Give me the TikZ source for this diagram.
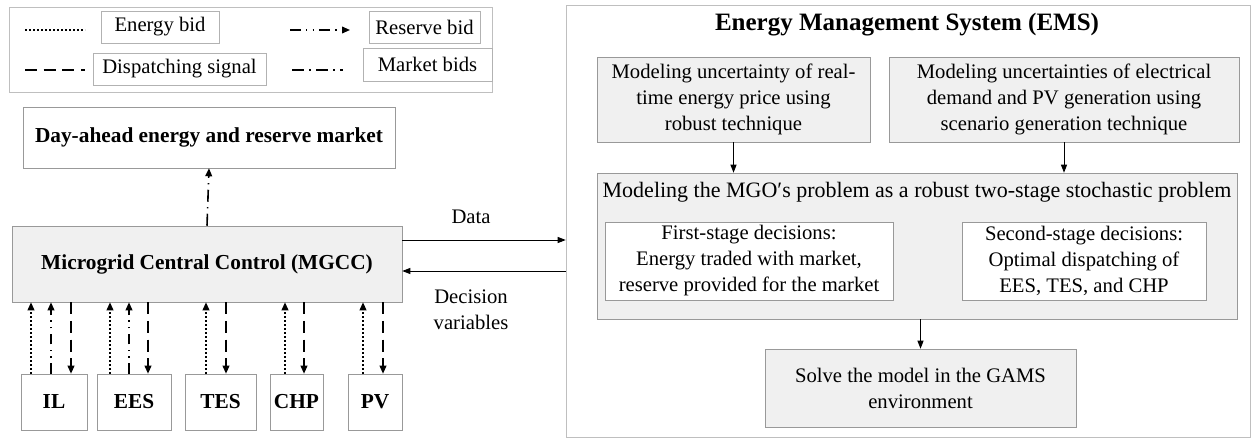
\documentclass[tikz,border=0pt]{standalone}
\usepackage{fontspec}
\setmainfont{Liberation Serif}
\usepackage{tikz}
\usetikzlibrary{arrows.meta,shadows}

\tikzset{
  softshadow/.style={drop shadow={shadow xshift=1pt,shadow yshift=-1pt,fill=black!40,opacity=0.45}},
  graybox/.style={draw=black!40, fill=black!6, align=center, inner sep=0pt, softshadow},
  whitebox/.style={draw=black!40, fill=white, align=center, inner sep=0pt, softshadow},
  keybox/.style={draw=black!30, fill=white, inner sep=0pt, minimum height=24pt},
  frame/.style={draw=black!25, fill=white, inner sep=0pt, softshadow},
  boldtxt/.style={font=\bfseries\fontsize{16}{19.5}\selectfont},
  tip/.style={-{Triangle[length=6pt,width=5pt]}},
  flow/.style={line width=0.7pt, -{Triangle[length=6pt,width=4.5pt]}},
  ebid/.style={line width=1.2pt, dash pattern=on 1.6pt off 1.4pt},
  rbid/.style={line width=1.2pt, dash pattern=on 8pt off 4pt on 1pt off 4pt on 1pt off 4pt},
  dsig/.style={line width=1.2pt, dash pattern=on 9pt off 5pt},
  mbid/.style={line width=1.2pt, dash pattern=on 9pt off 4pt on 1pt off 4pt},
}

\begin{document}
\begin{tikzpicture}[x=0.75pt,y=0.75pt,yscale=-1,xscale=1,
  every node/.style={font=\fontsize{15.5}{19.5}\selectfont}]
        \useasboundingbox (0,0) rectangle (1252,439);

        % legend
        \node [frame, minimum width=362.25pt, minimum height=63.75pt] (legend) at (250.5,49.5) {};
        \draw [ebid] (25,30) -- (85,30);
        \node [keybox, minimum width=88.5pt] (kenergy) at (160,27) {Energy bid};
        \draw [rbid,tip] (290,30) -- (350,30);
        \node [keybox, minimum width=83.25pt] (kreserve) at (424.5,27) {Reserve bid};
        \draw [dsig] (25,70) -- (85,70);
        \node [keybox, minimum width=129.75pt] (kdispatch) at (179.5,69) {Dispatching signal};
        \draw [mbid] (292,70) -- (343,70);
        \node [keybox, minimum width=96.75pt, minimum height=24.75pt] (kmarket) at (427.5,64.5) {Market bids};

        % microgrid side
        \node [whitebox, boldtxt, minimum width=279pt, minimum height=45.75pt] (dam) at (209,137.5) {Day-ahead energy and reserve market};
        \node [graybox, boldtxt, minimum width=292.5pt, minimum height=57pt] (mgcc) at (207,264) {Microgrid Central Control (MGCC)};
        \node [whitebox, boldtxt, minimum width=49.5pt, minimum height=42pt] (il) at (54,402) {IL};
        \node [whitebox, boldtxt, minimum width=55.5pt, minimum height=42pt] (ees) at (134,402) {EES};
        \node [whitebox, boldtxt, minimum width=53.25pt, minimum height=42pt] (tes) at (220.5,402) {TES};
        \node [whitebox, boldtxt, minimum width=39.75pt, minimum height=42pt] (chp) at (296.5,402) {CHP};
        \node [whitebox, boldtxt, minimum width=40.5pt, minimum height=42pt] (pv) at (375,402) {PV};

        \draw [mbid,tip] (mgcc.north) -- (dam.south);
        \foreach \x/\b in {31/il,110/ees,206/tes,285/chp,363/pv}
          \draw [ebid,tip] (\x,0 |- \b.north) -- (\x,0 |- mgcc.south);
        \foreach \x/\b in {51/il,129/ees}
          \draw [rbid,tip] (\x,0 |- \b.north) -- (\x,0 |- mgcc.south);
        \foreach \x/\b in {71/il,148/ees,226/tes,304/chp,383/pv}
          \draw [dsig,tip] (\x,0 |- mgcc.south) -- (\x,0 |- \b.north);

        % EMS side
        \node [frame, minimum width=513pt, minimum height=324pt] (ems) at (908,221) {};
        \node [font=\bfseries\fontsize{18.75}{22}\selectfont] (emstitle) at (907,25) {Energy Management System (EMS)};
        \node [graybox, minimum width=204.75pt, minimum height=63.75pt] (price) at (733.5,99.5) {Modeling uncertainty of real-\\time energy price using\\robust technique};
        \node [graybox, minimum width=262.5pt, minimum height=63.75pt] (demand) at (1064,99.5) {Modeling uncertainties of electrical\\demand and PV generation using\\scenario generation technique};
        \node [graybox, minimum width=480pt, minimum height=109.5pt] (mgo) at (917,246) {};
        \node [font=\fontsize{16.5}{19.5}\selectfont] (mgotitle) at (917,192) {Modeling the MGO′s problem as a robust two-stage stochastic problem};
        \node [whitebox, minimum width=216pt, minimum height=58.5pt] (first) at (749,261) {First-stage decisions:\\Energy traded with market,\\reserve provided for the market};
        \node [whitebox, minimum width=183pt, minimum height=58.5pt] (second) at (1084,261) {Second-stage decisions:\\Optimal dispatching of\\EES, TES, and CHP};
        \node [graybox, minimum width=233.25pt, minimum height=58.5pt] (solve) at (920.5,388) {Solve the model in the GAMS\\environment};

        \draw [flow] (price.south) -- (price.south |- mgo.north);
        \draw [flow] (demand.south) -- (demand.south |- mgo.north);
        \draw [flow] (solve.north |- mgo.south) -- (solve.north);

        % data exchange
        \draw [flow] (mgcc.east |- 0,240) -- (ems.west |- 0,240);
        \draw [flow] (ems.west |- 0,271) -- (mgcc.east |- 0,271);
        \node (datalbl) at (471,217) {Data};
        \node [align=center] (declbl) at (471,310) {Decision\\variables};
\end{tikzpicture}
\end{document}
